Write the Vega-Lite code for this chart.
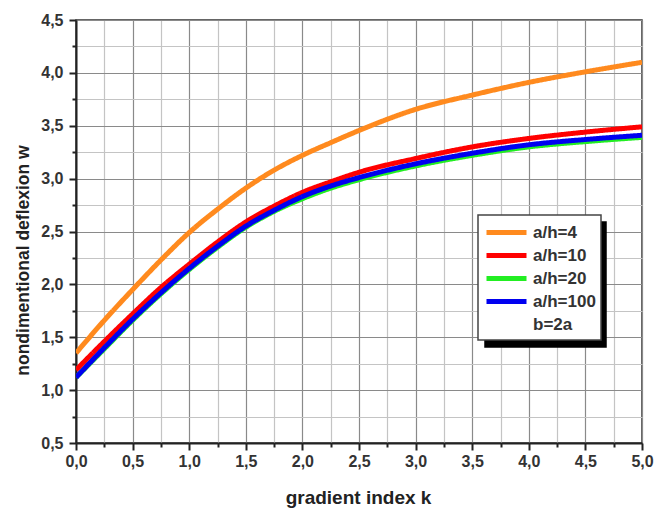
{
  "$schema": "https://vega.github.io/schema/vega-lite/v6.json",
  "width": 566,
  "height": 423,
  "autosize": {"type": "none"},
  "padding": {"left": 76, "top": 20, "right": 12, "bottom": 66},
  "background": "white",
  "config": {
    "view": {"stroke": "#333333", "strokeWidth": 1.5},
    "font": "Liberation Sans",
    "legend": {"strokeWidth": 1.5}
  },
  "data": {
    "values": [
      {"k": 0, "w": 1.35, "series": "a/h=4"},
      {"k": 0.25, "w": 1.66, "series": "a/h=4"},
      {"k": 0.5, "w": 1.95, "series": "a/h=4"},
      {"k": 0.75, "w": 2.23, "series": "a/h=4"},
      {"k": 1.0, "w": 2.49, "series": "a/h=4"},
      {"k": 1.25, "w": 2.71, "series": "a/h=4"},
      {"k": 1.5, "w": 2.91, "series": "a/h=4"},
      {"k": 1.75, "w": 3.08, "series": "a/h=4"},
      {"k": 2.0, "w": 3.22, "series": "a/h=4"},
      {"k": 2.25, "w": 3.34, "series": "a/h=4"},
      {"k": 2.5, "w": 3.455, "series": "a/h=4"},
      {"k": 3.0, "w": 3.655, "series": "a/h=4"},
      {"k": 3.5, "w": 3.79, "series": "a/h=4"},
      {"k": 4.0, "w": 3.91, "series": "a/h=4"},
      {"k": 4.5, "w": 4.01, "series": "a/h=4"},
      {"k": 5.0, "w": 4.10, "series": "a/h=4"},
      {"k": 0, "w": 1.19, "series": "a/h=10"},
      {"k": 0.25, "w": 1.46, "series": "a/h=10"},
      {"k": 0.5, "w": 1.72, "series": "a/h=10"},
      {"k": 0.75, "w": 1.97, "series": "a/h=10"},
      {"k": 1.0, "w": 2.19, "series": "a/h=10"},
      {"k": 1.25, "w": 2.40, "series": "a/h=10"},
      {"k": 1.5, "w": 2.59, "series": "a/h=10"},
      {"k": 1.75, "w": 2.74, "series": "a/h=10"},
      {"k": 2.0, "w": 2.87, "series": "a/h=10"},
      {"k": 2.25, "w": 2.97, "series": "a/h=10"},
      {"k": 2.5, "w": 3.06, "series": "a/h=10"},
      {"k": 3.0, "w": 3.19, "series": "a/h=10"},
      {"k": 3.5, "w": 3.30, "series": "a/h=10"},
      {"k": 4.0, "w": 3.38, "series": "a/h=10"},
      {"k": 4.5, "w": 3.44, "series": "a/h=10"},
      {"k": 5.0, "w": 3.49, "series": "a/h=10"},
      {"k": 0, "w": 1.12, "series": "a/h=20"},
      {"k": 0.25, "w": 1.39, "series": "a/h=20"},
      {"k": 0.5, "w": 1.66, "series": "a/h=20"},
      {"k": 0.75, "w": 1.91, "series": "a/h=20"},
      {"k": 1.0, "w": 2.14, "series": "a/h=20"},
      {"k": 1.25, "w": 2.35, "series": "a/h=20"},
      {"k": 1.5, "w": 2.54, "series": "a/h=20"},
      {"k": 1.75, "w": 2.69, "series": "a/h=20"},
      {"k": 2.0, "w": 2.81, "series": "a/h=20"},
      {"k": 2.25, "w": 2.91, "series": "a/h=20"},
      {"k": 2.5, "w": 2.99, "series": "a/h=20"},
      {"k": 3.0, "w": 3.12, "series": "a/h=20"},
      {"k": 3.5, "w": 3.22, "series": "a/h=20"},
      {"k": 4.0, "w": 3.30, "series": "a/h=20"},
      {"k": 4.5, "w": 3.35, "series": "a/h=20"},
      {"k": 5.0, "w": 3.39, "series": "a/h=20"},
      {"k": 0, "w": 1.12, "series": "a/h=100"},
      {"k": 0.25, "w": 1.40, "series": "a/h=100"},
      {"k": 0.5, "w": 1.67, "series": "a/h=100"},
      {"k": 0.75, "w": 1.92, "series": "a/h=100"},
      {"k": 1.0, "w": 2.15, "series": "a/h=100"},
      {"k": 1.25, "w": 2.36, "series": "a/h=100"},
      {"k": 1.5, "w": 2.55, "series": "a/h=100"},
      {"k": 1.75, "w": 2.70, "series": "a/h=100"},
      {"k": 2.0, "w": 2.83, "series": "a/h=100"},
      {"k": 2.25, "w": 2.93, "series": "a/h=100"},
      {"k": 2.5, "w": 3.01, "series": "a/h=100"},
      {"k": 3.0, "w": 3.14, "series": "a/h=100"},
      {"k": 3.5, "w": 3.24, "series": "a/h=100"},
      {"k": 4.0, "w": 3.32, "series": "a/h=100"},
      {"k": 4.5, "w": 3.37, "series": "a/h=100"},
      {"k": 5.0, "w": 3.41, "series": "a/h=100"}
    ]
  },
  "mark": {"type": "line", "strokeWidth": 5, "interpolate": "monotone", "clip": true},
  "encoding": {
    "x": {
      "field": "k",
      "type": "quantitative",
      "scale": {"domain": [0, 5], "nice": false, "zero": false},
      "axis": {
        "title": "gradient index k",
        "titleFont": "Liberation Sans",
        "titleFontSize": 19,
        "titleFontWeight": "bold",
        "titleColor": "#222222",
        "titleX": 282,
        "titleY": 54,
        "titleBaseline": "middle",
        "titleAlign": "center",
        "values": [0, 0.25, 0.5, 0.75, 1, 1.25, 1.5, 1.75, 2, 2.25, 2.5, 2.75, 3, 3.25, 3.5, 3.75, 4, 4.25, 4.5, 4.75, 5],
        "labelExpr": "datum.value % 0.5 === 0 ? replace(format(datum.value, '.1f'), '.', ',') : ''",
        "labelOverlap": false,
        "labelBound": false,
        "labelFlush": false,
        "labelFont": "Liberation Sans",
        "labelFontSize": 16,
        "labelFontWeight": "bold",
        "labelColor": "#333333",
        "labelPadding": 3,
        "domainColor": "#222222",
        "domainWidth": 2,
        "tickColor": "#222222",
        "tickWidth": 2,
        "tickSize": {"condition": {"test": "datum.value % 0.5 === 0", "value": 7}, "value": 4},
        "grid": true,
        "gridColor": {"condition": {"test": "datum.value % 0.5 === 0", "value": "#8a8a8a"}, "value": "#c4c4c4"},
        "gridWidth": 1.2,
        "zindex": 0
      }
    },
    "y": {
      "field": "w",
      "type": "quantitative",
      "scale": {"domain": [0.5, 4.5], "nice": false, "zero": false},
      "axis": {
        "title": "nondimentional deflexion w",
        "titleFont": "Liberation Sans",
        "titleFontSize": 17.5,
        "titleFontWeight": "bold",
        "titleColor": "#222222",
        "titleX": -53,
        "titleY": 240,
        "titleAngle": 270,
        "titleBaseline": "middle",
        "titleAlign": "center",
        "values": [0.5, 0.75, 1, 1.25, 1.5, 1.75, 2, 2.25, 2.5, 2.75, 3, 3.25, 3.5, 3.75, 4, 4.25, 4.5],
        "labelExpr": "datum.value % 0.5 === 0 ? replace(format(datum.value, '.1f'), '.', ',') : ''",
        "labelOverlap": false,
        "labelBound": false,
        "labelFlush": false,
        "labelFont": "Liberation Sans",
        "labelFontSize": 16,
        "labelFontWeight": "bold",
        "labelColor": "#333333",
        "labelPadding": 6,
        "domainColor": "#222222",
        "domainWidth": 2,
        "tickColor": "#222222",
        "tickWidth": 2,
        "tickSize": {"condition": {"test": "datum.value % 0.5 === 0", "value": 7}, "value": 4},
        "grid": true,
        "gridColor": {"condition": {"test": "datum.value % 0.5 === 0", "value": "#8a8a8a"}, "value": "#c4c4c4"},
        "gridWidth": 1.2,
        "zindex": 0
      }
    },
    "color": {
      "field": "series",
      "type": "nominal",
      "scale": {
        "domain": ["a/h=4", "a/h=10", "a/h=20", "a/h=100", "b=2a"],
        "range": ["#ff8a1e", "#ff0000", "#22ee22", "#0000f0", "transparent"]
      },
      "legend": {
        "title": null,
        "orient": "none",
        "legendX": 402,
        "legendY": 195,
        "zindex": 2,
        "fillColor": "white",
        "strokeColor": "#444444",
        "padding": 5,
        "symbolType": "M-0.9,0H3.1",
        "symbolSize": 400,
        "symbolStrokeWidth": 5,
        "labelOffset": 25,
        "labelFont": "Liberation Sans",
        "labelFontSize": 17,
        "labelFontWeight": "bold",
        "labelColor": "#333333",
        "rowPadding": 0
      }
    },
    "strokeDash": {
      "field": "series",
      "type": "nominal",
      "scale": {
        "domain": ["b=2a", "a/h=4", "a/h=10", "a/h=20", "a/h=100"],
        "range": [[1, 0], [1, 0], [1, 0], [1, 0], [1, 0]]
      },
      "legend": {
        "title": null,
        "orient": "none",
        "legendX": 409,
        "legendY": 202,
        "zindex": 1,
        "fillColor": "black",
        "strokeColor": "black",
        "padding": 5,
        "symbolType": "M-0.9,0H3.1",
        "symbolSize": 400,
        "symbolStrokeWidth": 5,
        "symbolStrokeColor": "black",
        "labelOffset": 86,
        "labelFont": "Liberation Sans",
        "labelFontSize": 17,
        "labelFontWeight": "bold",
        "labelExpr": "''",
        "rowPadding": 0
      }
    }
  }
}
